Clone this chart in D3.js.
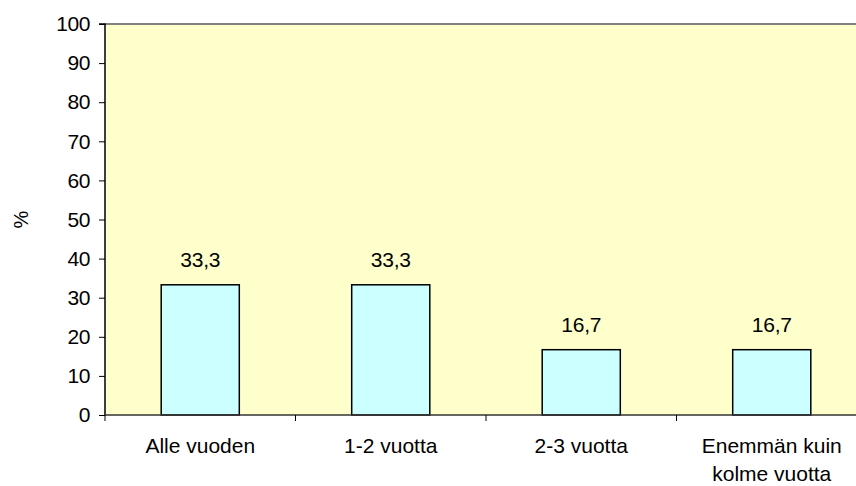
<!DOCTYPE html>
<html><head><meta charset="utf-8">
<script src="https://cdn.jsdelivr.net/npm/d3@7"></script>
<style>body{margin:0;background:#fff}svg{display:block}</style>
</head><body>
<script>
const categories = [["Alle vuoden"], ["1-2 vuotta"], ["2-3 vuotta"], ["Enemmän kuin", "kolme vuotta"]];
const values = [33.3, 33.3, 16.7, 16.7];
const valueLabels = ["33,3", "33,3", "16,7", "16,7"];
const yTicks = [0, 10, 20, 30, 40, 50, 60, 70, 80, 90, 100];
const yLabel = "%";

(function () {
const W = 856, H = 486;
const pL = 105, pR = 867, pT = 24, pB = 415;
const svg = d3.select("body").append("svg").attr("width", W).attr("height", H);
const font = "'Liberation Sans', Arial, sans-serif";

const x = d3.scaleBand().domain(d3.range(categories.length)).range([pL, pR]).paddingInner(0.59).paddingOuter(0.295);
const xb = d3.scaleBand().domain(d3.range(categories.length)).range([pL, pR]);
const y = d3.scaleLinear().domain([0, 100]).range([pB, pT]);

svg.append("rect").attr("x", pL).attr("y", pT).attr("width", pR - pL).attr("height", pB - pT).attr("fill", "#FFFFCC");
svg.append("line").attr("x1", pL).attr("x2", pR).attr("y1", pT).attr("y2", pT).attr("stroke", "#808080").attr("stroke-width", 2);

svg.selectAll("rect.bar").data(values).enter().append("rect")
  .attr("class", "bar")
  .attr("x", (d, i) => x(i)).attr("width", x.bandwidth())
  .attr("y", d => y(d)).attr("height", d => y(0) - y(d))
  .attr("fill", "#CCFFFF").attr("stroke", "#000").attr("stroke-width", 1.5);

svg.selectAll("text.vl").data(values).enter().append("text")
  .attr("x", (d, i) => x(i) + x.bandwidth() / 2).attr("y", d => y(d) - 18)
  .attr("text-anchor", "middle").attr("font-family", font).attr("font-size", 21).attr("letter-spacing", -0.2)
  .attr("fill", "#000").text((d, i) => valueLabels[i]);

const yAxis = d3.axisLeft(y).tickValues(yTicks).tickSize(6).tickPadding(9);
const ga = svg.append("g").attr("transform", `translate(${pL},0)`).call(yAxis);
ga.select(".domain").attr("stroke", "#000").attr("stroke-width", 1.5).attr("d", `M-6,${pT}H0V${pB}`);
ga.selectAll(".tick line").attr("stroke", "#000");
ga.selectAll(".tick text").attr("font-family", font).attr("font-size", 21).attr("fill", "#000").attr("letter-spacing", -0.4);

svg.append("line").attr("x1", pL).attr("x2", pR).attr("y1", pB).attr("y2", pB).attr("stroke", "#333").attr("stroke-width", 1.5);
const bounds = d3.range(categories.length + 1).map(i => pL + i * xb.bandwidth());
svg.selectAll("line.xt").data(bounds).enter().append("line")
  .attr("x1", d => d).attr("x2", d => d).attr("y1", pB).attr("y2", pB + 6).attr("stroke", "#000");

const cl = svg.selectAll("text.cl").data(categories).enter().append("text")
  .attr("x", (d, i) => xb(i) + xb.bandwidth() / 2).attr("y", 453)
  .attr("text-anchor", "middle").attr("font-family", font).attr("font-size", 21).attr("letter-spacing", 0).attr("fill", "#000");
cl.each(function (d) {
  const cx = d3.select(this).attr("x");
  d3.select(this).selectAll("tspan").data(d).enter().append("tspan")
    .attr("x", cx).attr("dy", (t, j) => j === 0 ? 0 : 28).text(t => t);
});

svg.append("text").attr("transform", `translate(28,${(pT + pB) / 2}) rotate(-90)`)
  .attr("text-anchor", "middle").attr("font-family", font).attr("font-size", 20).attr("fill", "#000").text(yLabel);
})();
</script>
</body></html>
